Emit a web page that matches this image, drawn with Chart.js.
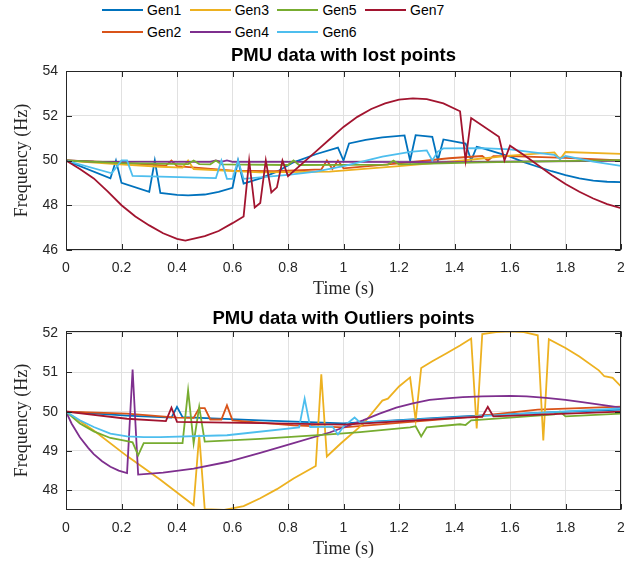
<!DOCTYPE html>
<html><head><meta charset="utf-8">
<script src="https://cdn.jsdelivr.net/npm/chart.js@4.4.1/dist/chart.umd.min.js"></script>
<style>
html,body{margin:0;padding:0;background:#fff;}
#wrap{position:relative;width:639px;height:562px;overflow:hidden;font-family:"Liberation Sans",Arial,sans-serif;}
canvas{position:absolute;left:0;}
#c1{top:38px;width:639px;height:264px;}
#c2{top:302px;width:639px;height:260px;}
.lg{position:absolute;height:2px;width:41px;}
.lt{position:absolute;font-size:14px;line-height:16px;color:#000;white-space:nowrap;}
.ttl{position:absolute;left:66px;width:555px;text-align:center;font-weight:bold;font-size:18.5px;line-height:22px;color:#000;white-space:nowrap;z-index:2;}
</style></head><body>
<div id="wrap">
<div id="legend"></div>
<div class="ttl" id="t1" style="top:44px;">PMU data with lost points</div>
<div class="ttl" id="t2" style="top:307px;">PMU data with Outliers points</div>
<canvas id="c1" width="639" height="264"></canvas>
<canvas id="c2" width="639" height="260"></canvas>
</div>
<script>
const genNames = ['Gen1','Gen2','Gen3','Gen4','Gen5','Gen6','Gen7'];
const genColors = ['#0072BD','#D95319','#EDB120','#7E2F8E','#77AC30','#4DBEEE','#A2142F'];
const xTicks = [0,0.2,0.4,0.6,0.8,1,1.2,1.4,1.6,1.8,2];
const yTicksLost = [46,48,50,52,54];
const yTicksOut = [48,49,50,51,52];

// ---- PMU data with lost points ----
const lostT1 = [0,0.16,0.18,0.20,0.30,0.32,0.34,0.40,0.44,0.50,0.55,0.60,0.62,0.64,0.70,0.76,0.82,0.90,0.98,1.00,1.02,1.08,1.14,1.22,1.24,1.26,1.32,1.34,1.36,1.44,1.46,1.48,1.50,1.60,1.65,1.70,1.75,1.80,1.85,1.90,1.95,2.00];
const lostF1 = [50,49.2,50,49.0,48.6,50,48.55,48.46,48.44,48.48,48.6,48.78,50,48.97,49.2,49.5,49.92,50.28,50.58,50.0,50.76,50.92,51.03,51.12,50.0,51.13,51.06,50.0,50.94,50.76,50.0,50.61,50.55,50.17,49.93,49.72,49.52,49.35,49.2,49.1,49.05,49.03];
const lostT2 = [0,0.2,0.36,0.38,0.40,0.6,0.75,0.92,0.94,0.96,0.98,1.0,1.2,1.38,1.5,1.52,1.54,1.6,1.8,2.0];
const lostF2 = [50,49.9,49.77,50,49.75,49.55,49.52,49.6,50,49.62,50,49.65,49.87,50.1,50.2,50.0,50.2,50.2,50.12,50.0];
const lostT3 = [0,0.18,0.34,0.42,0.44,0.46,0.7,0.95,1.2,1.43,1.6,1.76,1.78,1.80,2.0];
const lostF3 = [50,49.84,49.72,49.68,50,49.62,49.47,49.5,49.75,50.0,50.22,50.36,50.05,50.38,50.3];
const lostT4 = [0,0.1,0.52,0.54,0.56,0.58,0.60,1.0,1.4,1.6,2.0];
const lostF4 = [50,49.95,49.94,50.0,49.94,50.0,49.94,49.94,49.93,49.95,49.98];
const lostT5 = [0,0.2,0.44,0.46,0.48,0.52,0.54,0.56,0.80,0.82,0.84,1.16,1.18,1.20,1.5,2.0];
const lostF5 = [50,49.88,49.84,50,49.84,49.83,50,49.83,49.8,50,49.8,49.82,50,49.83,49.92,50.02];
const lostT6 = [0,0.165,0.20,0.22,0.24,0.54,0.56,0.58,0.60,0.62,0.64,0.80,0.90,1.0,1.14,1.24,1.30,1.32,1.34,1.36,1.5,1.6,1.67,1.76,1.78,1.80,1.9,2.0];
const lostF6 = [50,49.43,50,50,49.31,49.21,50,49.18,49.18,50,49.18,49.36,49.5,49.75,50.17,50.39,50.45,50.0,50.4,50.54,50.55,50.5,50.39,50.25,50.07,50.2,49.95,49.76];
const lostT7 = [0,0.05,0.1,0.15,0.2,0.25,0.3,0.35,0.4,0.43,0.5,0.55,0.6,0.64,0.66,0.68,0.70,0.72,0.74,0.76,0.78,0.80,0.85,0.9,0.95,1.0,1.05,1.1,1.15,1.2,1.25,1.3,1.36,1.42,1.44,1.46,1.56,1.58,1.60,1.65,1.7,1.75,1.8,1.85,1.9,1.95,2.0];
const lostF7 = [50,49.62,49.2,48.62,48.0,47.5,47.1,46.75,46.5,46.42,46.62,46.85,47.2,47.5,50,47.9,48.1,50,48.57,48.8,50,49.3,49.85,50.4,50.95,51.5,51.95,52.3,52.55,52.72,52.78,52.74,52.55,52.2,50.0,51.9,51.06,50.0,50.66,50.25,49.8,49.35,48.95,48.6,48.3,48.05,47.87];

// ---- PMU data with Outliers points ----
const outT1 = [0,0.22,0.38,0.40,0.42,0.7,1.0,1.43,1.7,2.0];
const outF1 = [50,49.9,49.85,50.12,49.86,49.78,49.7,49.88,49.97,50.05];
const outT2 = [0,0.22,0.40,0.46,0.48,0.50,0.52,0.56,0.58,0.60,0.82,1.0,1.43,1.7,2.0];
const outF2 = [50,49.95,49.85,49.84,50.09,50.09,49.8,49.8,50.16,49.78,49.65,49.6,49.85,50.05,50.13];
const outT3 = [0,0.1,0.22,0.34,0.46,0.48,0.50,0.57,0.64,0.7,0.76,0.82,0.90,0.92,0.94,0.99,1.07,1.14,1.16,1.20,1.24,1.26,1.28,1.32,1.37,1.42,1.46,1.48,1.50,1.55,1.60,1.65,1.70,1.72,1.74,1.80,1.85,1.92,1.94,1.97,2.0];
const outF3 = [50,49.52,48.87,48.27,47.62,49.41,47.52,47.5,47.6,47.8,48.03,48.3,48.62,50.95,48.86,49.19,49.68,50.28,50.33,50.64,50.87,49.78,51.11,51.28,51.48,51.68,51.86,49.57,51.97,52.02,52.04,52.02,51.94,49.27,51.84,51.62,51.4,51.05,50.9,50.86,50.64];
const outT4 = [0,0.02,0.05,0.08,0.1,0.13,0.16,0.19,0.22,0.24,0.26,0.35,0.46,0.58,0.70,0.82,0.95,1.07,1.13,1.19,1.25,1.31,1.37,1.43,1.5,1.6,1.66,1.73,1.8,1.86,1.93,2.0];
const outF4 = [50,49.7,49.35,49.08,48.92,48.74,48.6,48.5,48.44,51.07,48.4,48.45,48.55,48.72,48.95,49.2,49.47,49.78,49.95,50.1,50.21,50.3,50.34,50.37,50.39,50.4,50.39,50.35,50.3,50.24,50.17,50.1];
const outT5 = [0,0.05,0.1,0.16,0.22,0.24,0.26,0.28,0.42,0.44,0.46,0.48,0.50,0.7,0.95,1.06,1.24,1.26,1.28,1.30,1.42,1.44,1.46,1.6,1.76,1.78,1.80,2.0];
const outF5 = [50,49.7,49.5,49.33,49.25,49.22,48.89,49.2,49.2,50.54,49.2,50.12,49.24,49.31,49.42,49.48,49.6,49.63,49.37,49.6,49.68,49.66,49.78,49.85,49.93,50.0,49.88,49.95];
const outT6 = [0,0.05,0.1,0.16,0.22,0.28,0.34,0.58,0.84,0.86,0.88,0.96,0.98,1.0,1.04,1.06,1.43,1.7,2.0];
const outF6 = [50,49.78,49.61,49.44,49.37,49.35,49.35,49.4,49.6,50.33,49.61,49.62,49.42,49.62,49.85,49.72,49.86,49.97,50.08];
const outT7 = [0,0.22,0.36,0.38,0.40,0.7,1.0,1.43,1.50,1.52,1.54,2.0];
const outF7 = [50,49.82,49.76,50.1,49.74,49.71,49.67,49.85,49.87,50.12,49.88,50.0];

const lostSeries = [[lostT1,lostF1],[lostT2,lostF2],[lostT3,lostF3],[lostT4,lostF4],[lostT5,lostF5],[lostT6,lostF6],[lostT7,lostF7]];
const outSeries = [[outT1,outF1],[outT2,outF2],[outT3,outF3],[outT4,outF4],[outT5,outF5],[outT6,outF6],[outT7,outF7]];

// legend (MATLAB column-major, 2 rows)
(function(){
  const lg = document.getElementById('legend');
  genNames.forEach((name,i)=>{
    const col = Math.floor(i/2), row = i%2;
    const x = 102 + col*87.7, yc = 10 + row*21.5;
    const ln = document.createElement('div');
    ln.className='lg'; ln.style.left=x+'px'; ln.style.top=(yc-1)+'px'; ln.style.background=genColors[i];
    lg.appendChild(ln);
    const t = document.createElement('div');
    t.className='lt'; t.style.left=(x+45)+'px'; t.style.top=(yc-8)+'px'; t.textContent=name;
    lg.appendChild(t);
  });
})();

const AX = '#262626';
const framePlugin = {
  id:'frame',
  afterDatasetsDraw(chart){
    const {ctx, chartArea:a, scales} = chart;
    const L=Math.round(a.left)+0.5, R=Math.round(a.right)-0.5, T=Math.round(a.top)+0.5, B=Math.round(a.bottom)-0.5;
    ctx.save();
    ctx.strokeStyle=AX; ctx.lineWidth=1;
    ctx.strokeRect(L,T,R-L,B-T);
    const tl=5.5;
    ctx.beginPath();
    scales.x.ticks.forEach(tk=>{
      const px=Math.round(scales.x.getPixelForValue(tk.value))+0.5;
      ctx.moveTo(px,B); ctx.lineTo(px,B-tl);
      ctx.moveTo(px,T); ctx.lineTo(px,T+tl);
    });
    scales.y.ticks.forEach(tk=>{
      const py=Math.round(scales.y.getPixelForValue(tk.value))+0.5;
      ctx.moveTo(L,py); ctx.lineTo(L+tl,py);
      ctx.moveTo(R,py); ctx.lineTo(R-tl,py);
    });
    ctx.stroke();
    ctx.restore();
  }
};

function makeChart(id, series, yMin, yMax, yTicks, padTop){
  const datasets = series.map((s,i)=>({
    label: genNames[i],
    data: s[0].map((t,k)=>({x:t, y:s[1][k]})),
    borderColor: genColors[i],
    backgroundColor: genColors[i],
    borderWidth: 1.8,
    pointRadius: 0,
    tension: 0,
    fill: false,
    order: 7-i
  }));
  return new Chart(document.getElementById(id), {
    type:'line',
    data:{datasets},
    plugins:[framePlugin],
    options:{
      responsive:false, animation:false, devicePixelRatio:1,
      layout:{padding:{left:0,right:18,top:padTop,bottom:0}},
      plugins:{ legend:{display:false}, tooltip:{enabled:false}, title:{display:false} },
      scales:{
        x:{type:'linear', min:0, max:2,
          afterBuildTicks:s=>{ s.ticks = xTicks.map(v=>({value:v})); },
          afterFit:s=>{ s.height=52; },
          grid:{color:'#e1e1e1', lineWidth:1, drawTicks:false},
          border:{display:false},
          ticks:{padding:10, maxRotation:0, autoSkip:false, color:AX,
            font:{family:'"Liberation Sans", Arial, sans-serif', size:14},
            callback:v=>String(v)},
          title:{display:true, text:'Time (s)', color:AX,
            font:{family:'"Liberation Serif", "Times New Roman", serif', size:18, lineHeight:1.2},
            padding:{top:0,bottom:1.7}}
        },
        y:{type:'linear', min:yMin, max:yMax,
          afterBuildTicks:s=>{ s.ticks = yTicks.map(v=>({value:v})); },
          afterFit:s=>{ s.width=66; },
          grid:{color:'#e1e1e1', lineWidth:1, drawTicks:false},
          border:{display:false},
          ticks:{padding:8, color:AX, autoSkip:false,
            font:{family:'"Liberation Sans", Arial, sans-serif', size:14},
            callback:v=>String(v)},
          title:{display:true, text:'Frequency (Hz)', color:AX,
            font:{family:'"Liberation Serif", "Times New Roman", serif', size:18, lineHeight:1.2},
            padding:{top:11,bottom:0}}
        }
      }
    }
  });
}

makeChart('c1', lostSeries, 46, 54, yTicksLost, 33);
makeChart('c2', outSeries, 47.5, 52.05, yTicksOut, 29);
</script>
</body></html>
